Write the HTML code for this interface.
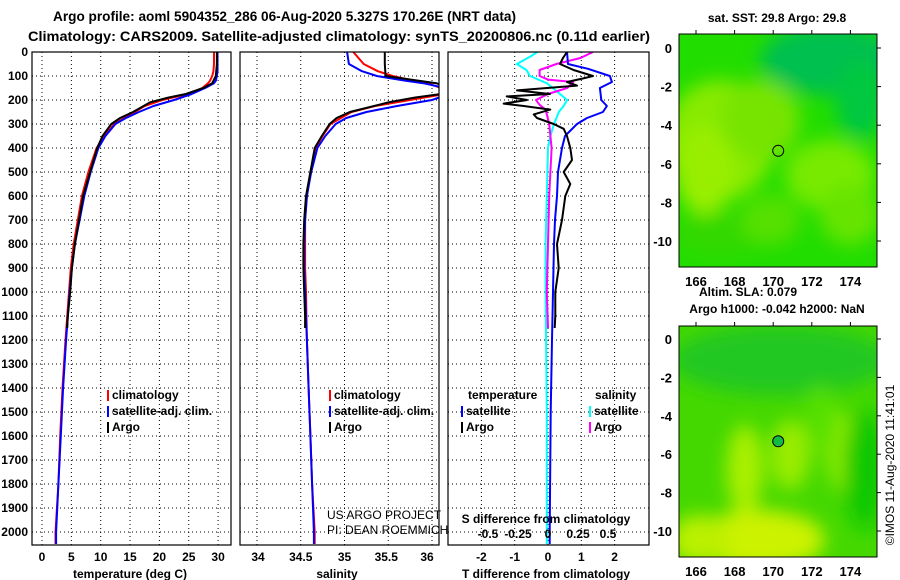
<!DOCTYPE html>
<html><head><meta charset="utf-8"><style>
html,body{margin:0;padding:0;background:#fff;}
svg{display:block;font-family:"Liberation Sans",sans-serif;font-weight:bold;}
</style></head><body>
<svg id="fig" width="900" height="580" viewBox="0 0 900 580" xmlns="http://www.w3.org/2000/svg">
<defs>
<clipPath id="c1"><rect x="32" y="52" width="199" height="493"/></clipPath>
<clipPath id="c2"><rect x="240" y="52" width="199" height="493"/></clipPath>
<clipPath id="c3"><rect x="448" y="52" width="201" height="493"/></clipPath>
<clipPath id="cm1"><rect x="679" y="34" width="198" height="233"/></clipPath>
<clipPath id="cm2"><rect x="679" y="326" width="198" height="231"/></clipPath>
<filter id="bl" x="-50%" y="-50%" width="200%" height="200%"><feGaussianBlur stdDeviation="9"/></filter>
</defs>
<text x="53" y="21" font-size="14" textLength="463" lengthAdjust="spacingAndGlyphs">Argo profile: aoml 5904352_286 06-Aug-2020 5.327S 170.26E (NRT data)</text>
<text x="28" y="41" font-size="14" textLength="622" lengthAdjust="spacingAndGlyphs">Climatology: CARS2009. Satellite-adjusted climatology: synTS_20200806.nc (0.11d earlier)</text>
<g id="grids"></g>
<g id="lines"></g>
<g id="frames"></g>
<g id="labels"></g>
<g id="maps"></g>
</svg>
<script>
const NS="http://www.w3.org/2000/svg";
// ---- data ----
const depthTicks=[0,100,200,300,400,500,600,700,800,900,1000,1100,1200,1300,1400,1500,1600,1700,1800,1900,2000];
const tempTicks=[0,5,10,15,20,25,30];
const salTicks=[34,34.5,35,35.5,36];
const tdiffTicks=[-2,-1,0,1,2];
const sdiffTicks=[-0.5,-0.25,0,0.25,0.5];
const sdiffTickLabels=["-0.5","-0.25","0","0.25","0.5"];

const argoDepth=[0,50,100,130,150,175,190,210,250,275,300,350,400,500,600,700,800,900,1000,1100,1150];
const argoTemp=[29.8,29.8,29.6,29.0,27.5,24.5,21.5,18.4,15.5,13.3,11.8,10.3,9.4,8.2,7.0,6.3,5.6,5.1,4.8,4.4,4.3];
const argoSal=[35.46,35.46,35.47,36.05,36.2,36.1,35.8,35.5,35.06,34.91,34.83,34.74,34.66,34.61,34.56,34.54,34.53,34.53,34.54,34.55,34.55];

const climDepth=[0,50,80,100,120,130,150,175,200,225,250,300,350,400,500,600,700,800,900,1000,1200,1400,1600,1800,2000,2050];
const climTemp=[29.3,29.3,29.2,29.0,28.6,28.3,27.3,24.8,20.5,17.5,15.8,12.3,10.6,9.3,7.9,6.8,6.1,5.4,4.9,4.6,4.0,3.5,3.1,2.8,2.3,2.3];
const climSal=[35.1,35.22,35.38,35.55,35.8,35.95,36.1,36.15,35.75,35.35,35.08,34.84,34.75,34.67,34.61,34.57,34.55,34.55,34.55,34.56,34.57,34.59,34.61,34.63,34.66,34.66];

const satDepth=[0,50,80,100,120,130,150,175,200,225,250,275,300,350,400,500,600,700,800,900,1000,1200,1400,1600,1800,2000,2050];
const satTemp=[29.9,29.9,29.9,29.8,29.6,29.3,27.8,25.5,22.5,19.0,16.5,14.3,12.5,10.8,9.6,8.3,7.2,6.4,5.6,5.1,4.7,4.1,3.6,3.2,2.8,2.4,2.4];
const satSal=[35.03,35.05,35.2,35.37,35.7,35.9,36.15,36.2,36.0,35.6,35.25,35.02,34.9,34.78,34.69,34.62,34.57,34.55,34.54,34.54,34.55,34.57,34.59,34.61,34.63,34.65,34.65];

const dtSatDepth=[0,50,70,100,125,150,200,225,250,275,300,350,400,500,600,700,800,1000,1200,1500,2000,2050];
const dtSat=[0.57,0.6,1.2,1.86,1.92,1.56,1.6,1.77,1.65,1.17,0.87,0.51,0.42,0.3,0.27,0.21,0.18,0.15,0.12,0.08,0.05,0.05];
const dtArgoDepth=[0,25,50,75,100,110,125,140,160,175,185,200,215,225,240,260,275,300,320,350,400,450,500,550,600,700,800,900,1000,1100,1150];
const dtArgo=[0.57,0.45,0.36,0.77,1.35,1.06,0.57,0.87,-0.93,0.06,-1.24,-0.63,-1.33,-0.73,0.07,-0.43,-0.33,0.17,0.47,0.57,0.67,0.72,0.47,0.67,0.52,0.42,0.27,0.32,0.22,0.22,0.2];
const dsSatDepth=[0,20,50,75,100,130,175,200,225,250,300,350,400,600,800,1000,1500,2000,2050];
const dsSat=[-0.09,-0.15,-0.26,-0.18,-0.15,-0.01,0.1,0.16,0.13,0.09,0.05,0.02,0,-0.01,-0.02,-0.02,-0.01,-0.01,-0.01];
const dsArgoDepth=[0,25,50,75,100,115,125,150,175,200,220,240,260,300,400,600,800,1000,1150];
const dsArgo=[0.375,0.27,0.07,-0.07,-0.07,0,0.21,0.16,0,-0.1,-0.07,-0.02,-0.01,0.01,0.03,0.01,0,-0.01,0];

const lonTicks=[166,168,170,172,174];
const latTicks=[0,-2,-4,-6,-8,-10];
const argoLon=[170.26];
const argoLat=[-5.327];

// ---- scales ----
const yD=d=>52+0.24*d;
const xT=t=>42+5.87*t;
const xS=s=>257+87.5*(s-34);
const xDT=v=>548+33.3*v;
const xDS=v=>548+120*v;
const mx=lon=>696+19.3*(lon-166);
const my1=lat=>48-19.3*lat;
const my2=lat=>339-19.2*lat;

function el(tag,attrs,parent,text){const e=document.createElementNS(NS,tag);for(const k in attrs)e.setAttribute(k,attrs[k]);if(text!==undefined)e.textContent=text;parent.appendChild(e);return e;}
const G=document.getElementById('grids'),L=document.getElementById('lines'),F=document.getElementById('frames'),T=document.getElementById('labels'),M=document.getElementById('maps');

const panels=[{x0:32,x1:231,ticks:tempTicks,sx:xT,name:'temperature'},{x0:240,x1:439,ticks:salTicks,sx:xS,name:'salinity'},{x0:448,x1:649,ticks:tdiffTicks,sx:xDT,name:'difference'}];
panels.forEach(p=>{
  depthTicks.forEach(d=>{const y=yD(d);const g=el('line',{x1:p.x0,x2:p.x1,y1:y,y2:y,stroke:'#000','stroke-width':1,'stroke-dasharray':'1,3'},G);
    
    });
  p.ticks.forEach(v=>{const x=p.sx(v);const g=el('line',{x1:x,x2:x,y1:52,y2:545,stroke:'#000','stroke-width':1,'stroke-dasharray':'1,3'},G);
    
    });
  const r=el('rect',{x:p.x0,y:52,width:p.x1-p.x0,height:493,fill:'none',stroke:'#000','stroke-width':1.2},F);
  
  
});

function line(ds,vs,sx,color,clip,name,w){
  const pts=ds.map((d,i)=>sx(vs[i]).toFixed(1)+','+yD(d).toFixed(1)).join(' ');
  const e=el('polyline',{points:pts,fill:'none',stroke:color,'stroke-width':w||2,'clip-path':'url(#'+clip+')','stroke-linejoin':'round'},L);
  
  
}
line(climDepth,climTemp,xT,'#f00','c1','temp-climatology-line');
line(satDepth,satTemp,xT,'#00f','c1','temp-satellite-line');
line(argoDepth,argoTemp,xT,'#000','c1','temp-argo-line');
line(climDepth,climSal,xS,'#f00','c2','sal-climatology-line');
line(satDepth,satSal,xS,'#00f','c2','sal-satellite-line');
line(argoDepth,argoSal,xS,'#000','c2','sal-argo-line');
line(dsSatDepth,dsSat,xDS,'#0ff','c3','sdiff-satellite-line');
line(dsArgoDepth,dsArgo,xDS,'#f0f','c3','sdiff-argo-line');
line(dtSatDepth,dtSat,xDT,'#00f','c3','tdiff-satellite-line');
line(dtArgoDepth,dtArgo,xDT,'#000','c3','tdiff-argo-line');

function txt(x,y,s,name,opts){const o=Object.assign({x:x,y:y,'font-size':12},opts||{});const t=el('text',o,T,s);
  
  return t;}
depthTicks.forEach(d=>txt(28,yD(d)+4,String(d),'depth-tick-label',{'text-anchor':'end'}));
tempTicks.forEach(v=>txt(xT(v),561,String(v),'temp-tick-label',{'text-anchor':'middle'}));
salTicks.forEach(v=>txt(xS(v)+(v===34?1:(v===36?-5:(v===35.5?-2:0))),561,String(v),'sal-tick-label',{'text-anchor':'middle'}));
tdiffTicks.forEach(v=>txt(xDT(v),561,String(v),'tdiff-tick-label',{'text-anchor':'middle'}));
sdiffTicks.forEach((v,i)=>txt(xDS(v),538,sdiffTickLabels[i],'sdiff-tick-label',{'text-anchor':'middle'}));
txt(130,578,'temperature (deg C)','temp-axis-title',{'text-anchor':'middle'});
txt(337,578,'salinity','sal-axis-title',{'text-anchor':'middle'});
txt(546,578,'T difference from climatology','tdiff-axis-title',{'text-anchor':'middle'});
txt(546,523,'S difference from climatology','sdiff-axis-title',{'text-anchor':'middle'});

function leg(x,y,color,s,name){const r=el('rect',{x:x,y:y-9,width:2,height:11,fill:color},T);
  
  
  txt(x+5,y,s,name);}
leg(107,399,'#f00','climatology','legend-t-climatology');
leg(107,415,'#00f','satellite-adj. clim.','legend-t-satellite');
leg(107,431,'#000','Argo','legend-t-argo');
leg(329,399,'#f00','climatology','legend-s-climatology');
leg(329,415,'#00f','satellite-adj. clim.','legend-s-satellite');
leg(329,431,'#000','Argo','legend-s-argo');
txt(468,399,'temperature','legend-temperature-heading');
txt(595,399,'salinity','legend-salinity-heading');
leg(461,415,'#00f','satellite','legend-tdiff-satellite');
leg(461,431,'#000','Argo','legend-tdiff-argo');
leg(589,415,'#0ff','satellite','legend-sdiff-satellite');
leg(589,431,'#f0f','Argo','legend-sdiff-argo');
txt(327,519,'US ARGO PROJECT','credit-project',{'font-weight':'normal','font-size':12});
txt(327,534,'PI: DEAN ROEMMICH','credit-pi',{'font-weight':'normal','font-size':12});

// ---- maps ----
function map(y0,h,my,clip,name,base,blobs){
  const g=el('g',{'clip-path':'url(#'+clip+')'},M);
  
  
  el('rect',{x:679,y:y0,width:198,height:h,fill:base},g);
  const bg=el('g',{filter:'url(#bl)'},g);
  blobs.forEach(b=>el('ellipse',{cx:b[0],cy:b[1],rx:b[2],ry:b[3],fill:b[4]},bg));
  const fr=el('rect',{x:679,y:y0,width:198,height:h,fill:'none',stroke:'#000','stroke-width':1},M);
  
  
  latTicks.forEach(v=>{txt(672,my(v)+5,String(v),name+'-lat-label',{'text-anchor':'end','font-size':13});
    el('line',{x1:877,x2:881,y1:my(v),y2:my(v),stroke:'#000'},M);});
  lonTicks.forEach(v=>{txt(mx(v),y0+h+19,String(v),name+'-lon-label',{'text-anchor':'middle','font-size':13});
    el('line',{x1:mx(v),x2:mx(v),y1:y0-4,y2:y0,stroke:'#000'},M);});
  argoLon.forEach((lon,i)=>{const c=el('circle',{cx:mx(lon),cy:my(argoLat[i]),r:5.5,fill:name==='sla-map'?'#11bb44':'none',stroke:'#000','stroke-width':1},M);
    
    });
}
map(34,233,my1,'cm1','sst-map','#22dd00',[[720,140,55,60,'#88ea00'],[705,170,30,45,'#99ee00'],[760,120,40,40,'#77e400'],[830,175,45,35,'#77ea00'],[850,215,30,30,'#66e400'],[830,60,70,35,'#00c050'],[860,100,25,40,'#00c840'],[720,235,50,20,'#33d800'],[770,220,30,25,'#55e000']]);
map(326,231,my2,'cm2','sla-map','#44d800',[[780,360,110,35,'#22c822'],[745,470,18,45,'#aaf000'],[790,455,20,35,'#99ec00'],[840,450,14,40,'#88ea00'],[760,540,65,30,'#ccf200'],[700,540,30,25,'#bbf000'],[865,470,20,60,'#11c800'],[820,420,15,35,'#55e000']]);
txt(777,22,'sat. SST: 29.8 Argo: 29.8','sst-map-title',{'text-anchor':'middle'});
txt(748,296,'Altim. SLA: 0.079','sla-value-label',{'text-anchor':'middle'});
txt(777,313,'Argo h1000: -0.042 h2000: NaN','sla-map-title',{'text-anchor':'middle'});
txt(0,0,'©IMOS 11-Aug-2020 11:41:01','imos-timestamp',{'text-anchor':'middle','transform':'translate(894,465) rotate(-90)','font-weight':'normal','font-size':12});
</script>
</body></html>
